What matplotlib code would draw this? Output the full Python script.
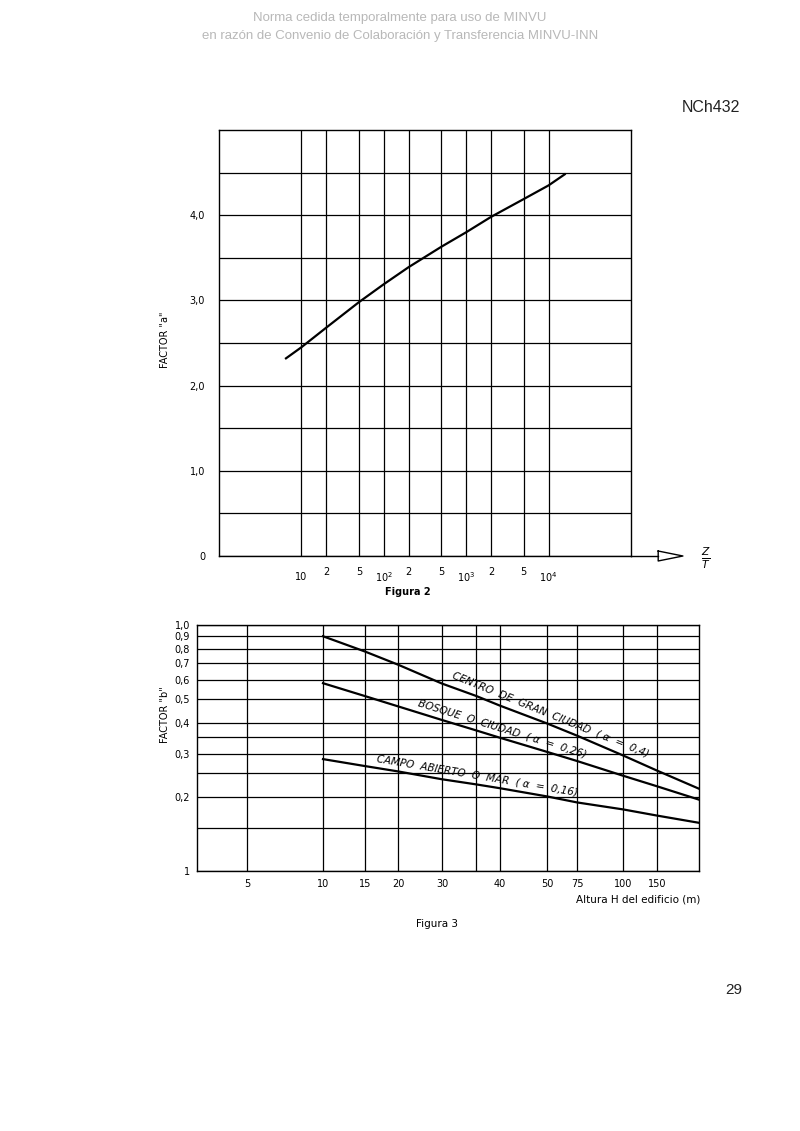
import numpy as np
import matplotlib.pyplot as plt
from matplotlib.transforms import offset_copy

# Figura 2: factor "a" en funcion de Z/T
zt = [6.5, 10, 20, 50, 100, 200, 500, 1000, 2000, 5000, 10000, 15700]
factor_a = [2.32, 2.45, 2.68, 2.98, 3.19, 3.39, 3.63, 3.80, 3.98, 4.19, 4.35, 4.48]
zt_grid = [10, 20, 50, 100, 200, 500, 1000, 2000, 5000, 10000]
zt_labels = ["10", "2", "5", "$10^2$", "2", "5", "$10^3$", "2", "5", "$10^4$"]
a_grid = [0, 0.5, 1.0, 1.5, 2.0, 2.5, 3.0, 3.5, 4.0, 4.5]
a_labels = ["0", "", "1,0", "", "2,0", "", "3,0", "", "4,0", ""]

# Figura 3: factor "b" en funcion de la altura H del edificio
altura = [10, 15, 20, 30, 35, 40, 50, 75, 100, 150, 200]
b_centro = [0.90, 0.78, 0.69, 0.578, 0.515, 0.47, 0.398, 0.355, 0.295, 0.256, 0.216]
b_bosque = [0.58, 0.514, 0.467, 0.411, 0.373, 0.348, 0.305, 0.28, 0.244, 0.221, 0.195]
b_campo = [0.285, 0.267, 0.254, 0.236, 0.225, 0.217, 0.201, 0.19, 0.178, 0.168, 0.157]
h_grid = [5, 10, 15, 20, 30, 35, 40, 50, 75, 100, 150]
h_labels = ["5", "10", "15", "20", "30", "", "40", "50", "75", "100", "150"]
b_grid = [0.1, 0.15, 0.2, 0.25, 0.3, 0.35, 0.4, 0.5, 0.6, 0.7, 0.8, 0.9, 1.0]
b_labels = ["1", "", "0,2", "", "0,3", "", "0,4", "0,5", "0,6", "0,7", "0,8", "0,9", "1,0"]

curvas = [
    (b_centro, "CENTRO  DE  GRAN  CIUDAD  ( α  =  0,4)", 6),
    (b_bosque, "BOSQUE  O  CIUDAD  ( α  =  0,26)", 5),
    (b_campo, "CAMPO  ABIERTO  O  MAR  ( α  =  0,16)", 4),
]

# graduacion irregular del eje de alturas (valor -> fraccion del eje)
escala_h = [3, 5, 10, 15, 20, 30, 35, 40, 50, 75, 100, 150, 200]
escala_frac = [0, 0.0996, 0.251, 0.3347, 0.4004, 0.488, 0.5558, 0.6036,
               0.6972, 0.757, 0.8486, 0.9163, 1.0]


def h_fwd(x):
    return np.interp(x, escala_h, escala_frac)


def h_inv(y):
    return np.interp(y, escala_frac, escala_h)


plt.rcParams['font.family'] = ['DejaVu Sans']
fig = plt.figure(figsize=(8, 11.31), dpi=100)

# encabezado
fig.text(0.5, 1 - 18 / 1131, "Norma cedida temporalmente para uso de MINVU",
         ha="center", va="center", fontsize=9.5, color="#b8b8b8", family="Liberation Sans")
fig.text(0.5, 1 - 36 / 1131, "en razón de Convenio de Colaboración y Transferencia MINVU-INN",
         ha="center", va="center", fontsize=9.5, color="#b8b8b8", family="Liberation Sans")
fig.text(740 / 800, 1 - 107 / 1131, "NCh432", ha="right", va="center",
         fontsize=11.5, color="#222222", family="Liberation Sans")
fig.text(742 / 800, 1 - 990 / 1131, "29", ha="right", va="center",
         fontsize=11, color="#222222", family="Liberation Sans")

# ---- Figura 2 ----
ax1 = fig.add_axes([219 / 800, 1 - 556 / 1131, 412 / 800, 426 / 1131])
ax1.plot(zt, factor_a, color="black", lw=1.6)
ax1.set_xscale("log")
ax1.set_xlim(1, 1e5)
ax1.set_ylim(0, 5)
ax1.set_xticks(zt_grid)
ax1.set_xticklabels([])
ax1.minorticks_off()
ax1.set_yticks(a_grid, labels=a_labels)
ax1.tick_params(length=0, labelsize=7, pad=10)
ax1.grid(True, color="black", lw=0.9)
for s in ax1.spines.values():
    s.set_linewidth(1.0)
for x, lab in zip(zt_grid, zt_labels):
    yy = -0.05 if lab == "10" or "10^" in lab else -0.037
    ax1.text(x, yy, lab, transform=ax1.get_xaxis_transform(), ha="center",
             va="center", fontsize=7)
# flecha del eje Z/T
ax1.plot([1, 1.066], [0, 0], color="black", lw=1.0, transform=ax1.transAxes, clip_on=False)
ax1.plot([1.066, 1.126, 1.066, 1.066], [0.0117, 0, -0.0117, 0.0117], color="black",
         lw=1.0, transform=ax1.transAxes, clip_on=False)
fig.text(706 / 800, 1 - 558 / 1131, r"$\frac{Z}{T}$", ha="center", va="center", fontsize=11)
fig.text(165 / 800, 1 - 340 / 1131, 'FACTOR "a"', rotation=90, ha="center",
         va="center", fontsize=7)
fig.text(408 / 800, 1 - 592 / 1131, "Figura 2", ha="center", va="center",
         fontsize=7, weight="bold")

# ---- Figura 3 ----
ax2 = fig.add_axes([197 / 800, 1 - 871 / 1131, 502 / 800, 246 / 1131])
ax2.set_xscale("function", functions=(h_fwd, h_inv))
ax2.set_yscale("log")
ax2.set_xlim(3, 200)
ax2.set_ylim(0.1, 1.0)
ax2.set_xticks(h_grid, labels=h_labels)
ax2.set_yticks(b_grid, labels=b_labels)
ax2.minorticks_off()
ax2.tick_params(length=0, labelsize=7)
ax2.tick_params(axis="x", pad=6)
ax2.tick_params(axis="y", pad=5)
ax2.grid(True, color="black", lw=0.9)
for s in ax2.spines.values():
    s.set_linewidth(1.0)

for valores, etiqueta, i in curvas:
    ax2.plot(altura, valores, color="black", lw=1.6)
    p1 = ax2.transData.transform((altura[0], valores[0]))
    p2 = ax2.transData.transform((altura[-1], valores[-1]))
    ang = np.arctan2(p2[1] - p1[1], p2[0] - p1[0])
    d = 3.0
    tr = offset_copy(ax2.transData, fig=fig, x=-np.sin(ang) * d, y=np.cos(ang) * d,
                     units="points")
    ax2.text(altura[i], valores[i], etiqueta, transform=tr, rotation=np.degrees(ang),
             rotation_mode="anchor", ha="center", va="bottom", fontsize=7.5,
             style="italic")

fig.text(165 / 800, 1 - 715 / 1131, 'FACTOR "b"', rotation=90, ha="center",
         va="center", fontsize=7)
fig.text(700 / 800, 1 - 900 / 1131, "Altura H del edificio (m)", ha="right",
         va="center", fontsize=7.5)
fig.text(437 / 800, 1 - 924 / 1131, "Figura 3", ha="center", va="center", fontsize=7.5)

fig.savefig("out.png", dpi=100)
